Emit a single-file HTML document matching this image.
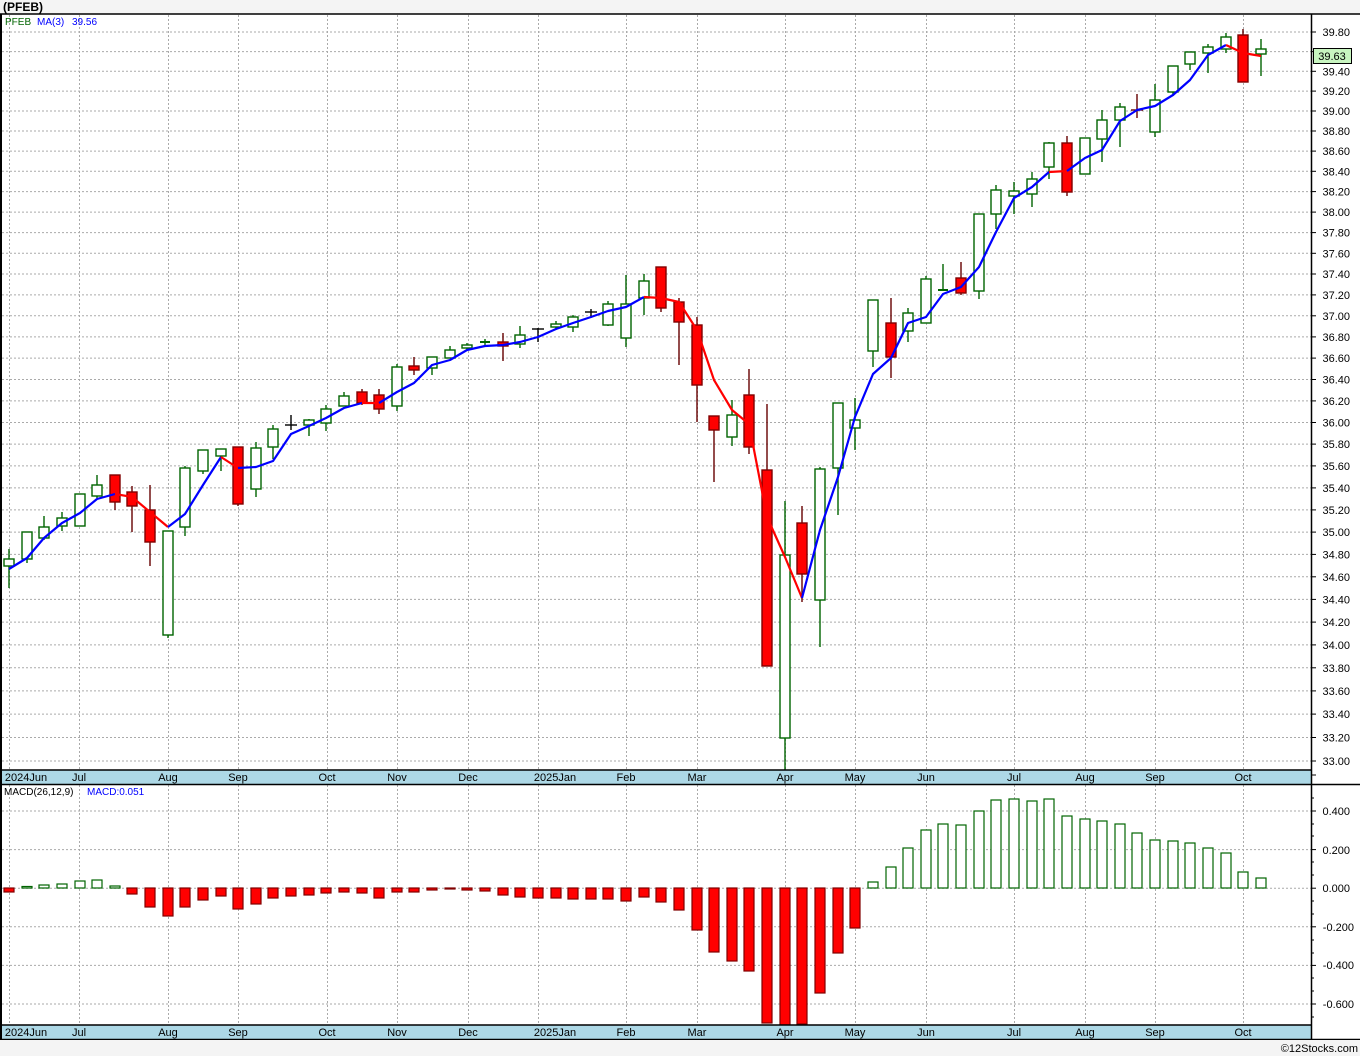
<!DOCTYPE html>
<html><head><meta charset="utf-8"><style>
html,body{margin:0;padding:0;background:#f4f4f4;}
svg{display:block;font-family:"Liberation Sans",sans-serif;}
</style></head><body>
<svg width="1360" height="1056" viewBox="0 0 1360 1056" xmlns="http://www.w3.org/2000/svg">
<rect x="0" y="0" width="1360" height="1056" fill="#f4f4f4"/>
<text x="3" y="11" font-size="12" font-weight="bold" fill="#000">(PFEB)</text>
<rect x="0" y="14" width="1360" height="1026" fill="#fff"/>
<!-- horizontal grid main -->
<g stroke="#aaa" stroke-width="1" stroke-dasharray="2,2">
<line x1="2" x2="1311" y1="32" y2="32"/><line x1="2" x2="1311" y1="51.6" y2="51.6"/><line x1="2" x2="1311" y1="71.3" y2="71.3"/><line x1="2" x2="1311" y1="91.1" y2="91.1"/><line x1="2" x2="1311" y1="111" y2="111"/><line x1="2" x2="1311" y1="131" y2="131"/><line x1="2" x2="1311" y1="151.1" y2="151.1"/><line x1="2" x2="1311" y1="171.3" y2="171.3"/><line x1="2" x2="1311" y1="191.6" y2="191.6"/><line x1="2" x2="1311" y1="212.1" y2="212.1"/><line x1="2" x2="1311" y1="232.6" y2="232.6"/><line x1="2" x2="1311" y1="253.3" y2="253.3"/><line x1="2" x2="1311" y1="274" y2="274"/><line x1="2" x2="1311" y1="294.9" y2="294.9"/><line x1="2" x2="1311" y1="315.8" y2="315.8"/><line x1="2" x2="1311" y1="336.9" y2="336.9"/><line x1="2" x2="1311" y1="358.1" y2="358.1"/><line x1="2" x2="1311" y1="379.5" y2="379.5"/><line x1="2" x2="1311" y1="400.9" y2="400.9"/><line x1="2" x2="1311" y1="422.5" y2="422.5"/><line x1="2" x2="1311" y1="444.1" y2="444.1"/><line x1="2" x2="1311" y1="465.9" y2="465.9"/><line x1="2" x2="1311" y1="487.9" y2="487.9"/><line x1="2" x2="1311" y1="509.9" y2="509.9"/><line x1="2" x2="1311" y1="532.1" y2="532.1"/><line x1="2" x2="1311" y1="554.4" y2="554.4"/><line x1="2" x2="1311" y1="576.8" y2="576.8"/><line x1="2" x2="1311" y1="599.4" y2="599.4"/><line x1="2" x2="1311" y1="622.1" y2="622.1"/><line x1="2" x2="1311" y1="644.9" y2="644.9"/><line x1="2" x2="1311" y1="667.8" y2="667.8"/><line x1="2" x2="1311" y1="690.9" y2="690.9"/><line x1="2" x2="1311" y1="714.1" y2="714.1"/><line x1="2" x2="1311" y1="737.5" y2="737.5"/><line x1="2" x2="1311" y1="761" y2="761"/>
<line x1="2" x2="1311" y1="811" y2="811"/><line x1="2" x2="1311" y1="849.6" y2="849.6"/><line x1="2" x2="1311" y1="888.2" y2="888.2"/><line x1="2" x2="1311" y1="926.8" y2="926.8"/><line x1="2" x2="1311" y1="965.4" y2="965.4"/><line x1="2" x2="1311" y1="1004" y2="1004"/>
</g>
<g stroke="#aaa" stroke-width="1" stroke-dasharray="2,2">
<line x1="9.5" x2="9.5" y1="15" y2="770"/><line x1="79.5" x2="79.5" y1="15" y2="770"/><line x1="168.5" x2="168.5" y1="15" y2="770"/><line x1="238.5" x2="238.5" y1="15" y2="770"/><line x1="327.5" x2="327.5" y1="15" y2="770"/><line x1="397.5" x2="397.5" y1="15" y2="770"/><line x1="468.5" x2="468.5" y1="15" y2="770"/><line x1="538.5" x2="538.5" y1="15" y2="770"/><line x1="626.5" x2="626.5" y1="15" y2="770"/><line x1="697.5" x2="697.5" y1="15" y2="770"/><line x1="785.5" x2="785.5" y1="15" y2="770"/><line x1="855.5" x2="855.5" y1="15" y2="770"/><line x1="926.5" x2="926.5" y1="15" y2="770"/><line x1="1014.5" x2="1014.5" y1="15" y2="770"/><line x1="1085.5" x2="1085.5" y1="15" y2="770"/><line x1="1155.5" x2="1155.5" y1="15" y2="770"/><line x1="1243.5" x2="1243.5" y1="15" y2="770"/>
<line x1="9.5" x2="9.5" y1="785" y2="1025"/><line x1="79.5" x2="79.5" y1="785" y2="1025"/><line x1="168.5" x2="168.5" y1="785" y2="1025"/><line x1="238.5" x2="238.5" y1="785" y2="1025"/><line x1="327.5" x2="327.5" y1="785" y2="1025"/><line x1="397.5" x2="397.5" y1="785" y2="1025"/><line x1="468.5" x2="468.5" y1="785" y2="1025"/><line x1="538.5" x2="538.5" y1="785" y2="1025"/><line x1="626.5" x2="626.5" y1="785" y2="1025"/><line x1="697.5" x2="697.5" y1="785" y2="1025"/><line x1="785.5" x2="785.5" y1="785" y2="1025"/><line x1="855.5" x2="855.5" y1="785" y2="1025"/><line x1="926.5" x2="926.5" y1="785" y2="1025"/><line x1="1014.5" x2="1014.5" y1="785" y2="1025"/><line x1="1085.5" x2="1085.5" y1="785" y2="1025"/><line x1="1155.5" x2="1155.5" y1="785" y2="1025"/><line x1="1243.5" x2="1243.5" y1="785" y2="1025"/>
</g>
<!-- MACD bars -->
<g stroke-width="1.2">
<g fill="#ff0000" stroke="#800000">
<rect x="4" y="888" width="10" height="4"/><rect x="127" y="888" width="10" height="6"/><rect x="145" y="888" width="10" height="19"/><rect x="163" y="888" width="10" height="28"/><rect x="180" y="888" width="10" height="19"/><rect x="198" y="888" width="10" height="12"/><rect x="216" y="888" width="10" height="8"/><rect x="233" y="888" width="10" height="21"/><rect x="251" y="888" width="10" height="16"/><rect x="268" y="888" width="10" height="10"/><rect x="286" y="888" width="10" height="8"/><rect x="304" y="888" width="10" height="7"/><rect x="321" y="888" width="10" height="5"/><rect x="339" y="888" width="10" height="4"/><rect x="357" y="888" width="10" height="5"/><rect x="374" y="888" width="10" height="10"/><rect x="392" y="888" width="10" height="4"/><rect x="409" y="888" width="10" height="4"/><rect x="427" y="888" width="10" height="2"/><rect x="445" y="888" width="10" height="1"/><rect x="462" y="888" width="10" height="2"/><rect x="480" y="888" width="10" height="3"/><rect x="498" y="888" width="10" height="7"/><rect x="515" y="888" width="10" height="9"/><rect x="533" y="888" width="10" height="10"/><rect x="551" y="888" width="10" height="10"/><rect x="568" y="888" width="10" height="11"/><rect x="586" y="888" width="10" height="11"/><rect x="603" y="888" width="10" height="11"/><rect x="621" y="888" width="10" height="13"/><rect x="639" y="888" width="10" height="9"/><rect x="656" y="888" width="10" height="14"/><rect x="674" y="888" width="10" height="22"/><rect x="692" y="888" width="10" height="42"/><rect x="709" y="888" width="10" height="64"/><rect x="727" y="888" width="10" height="73"/><rect x="744" y="888" width="10" height="83"/><rect x="762" y="888" width="10" height="135"/><rect x="780" y="888" width="10" height="137"/><rect x="797" y="888" width="10" height="136"/><rect x="815" y="888" width="10" height="105"/><rect x="833" y="888" width="10" height="65"/><rect x="850" y="888" width="10" height="40"/>
</g>
<g fill="#fff" stroke="#006400">
<rect x="22" y="886.5" width="10" height="1.5"/><rect x="39" y="885" width="10" height="3"/><rect x="57" y="884" width="10" height="4"/><rect x="75" y="881" width="10" height="7"/><rect x="92" y="880" width="10" height="8"/><rect x="110" y="886" width="10" height="2"/>
<rect x="868" y="882" width="10" height="6"/><rect x="886" y="867" width="10" height="21"/><rect x="903" y="848" width="10" height="40"/><rect x="921" y="830" width="10" height="58"/><rect x="938" y="824" width="10" height="64"/><rect x="956" y="825" width="10" height="63"/><rect x="974" y="811" width="10" height="77"/><rect x="991" y="800" width="10" height="88"/><rect x="1009" y="799" width="10" height="89"/><rect x="1027" y="801" width="10" height="87"/><rect x="1044" y="799" width="10" height="89"/><rect x="1062" y="816" width="10" height="72"/><rect x="1080" y="819" width="10" height="69"/><rect x="1097" y="821" width="10" height="67"/><rect x="1115" y="824" width="10" height="64"/><rect x="1132" y="833" width="10" height="55"/><rect x="1150" y="840" width="10" height="48"/><rect x="1168" y="841" width="10" height="47"/><rect x="1185" y="843" width="10" height="45"/><rect x="1203" y="848" width="10" height="40"/><rect x="1221" y="853" width="10" height="35"/><rect x="1238" y="872" width="10" height="16"/><rect x="1256" y="878" width="10" height="10"/>
</g></g>
<!-- candles -->
<g stroke-width="1.4">
<g stroke="#006400">
<line x1="9" x2="9" y1="549" y2="588"/><line x1="27" x2="27" y1="532" y2="563"/><line x1="44" x2="44" y1="516" y2="540"/><line x1="62" x2="62" y1="512" y2="531"/><line x1="80" x2="80" y1="494" y2="526"/><line x1="97" x2="97" y1="475" y2="498"/><line x1="168" x2="168" y1="531" y2="638"/><line x1="185" x2="185" y1="466" y2="536"/><line x1="203" x2="203" y1="450" y2="474"/><line x1="221" x2="221" y1="449" y2="471"/><line x1="256" x2="256" y1="442" y2="497"/><line x1="273" x2="273" y1="425" y2="459"/><line x1="309" x2="309" y1="419" y2="436"/><line x1="326" x2="326" y1="405" y2="431"/><line x1="344" x2="344" y1="392" y2="406"/><line x1="397" x2="397" y1="364" y2="411"/><line x1="432" x2="432" y1="357" y2="375"/><line x1="450" x2="450" y1="346" y2="358"/><line x1="467" x2="467" y1="343" y2="350"/><line x1="485" x2="485" y1="339" y2="347"/><line x1="480" x2="490" y1="342" y2="342" stroke-width="2"/><line x1="520" x2="520" y1="326" y2="348"/><line x1="556" x2="556" y1="321" y2="330"/><line x1="573" x2="573" y1="315" y2="332"/><line x1="608" x2="608" y1="301" y2="326"/><line x1="626" x2="626" y1="275" y2="347"/><line x1="644" x2="644" y1="274" y2="315"/><line x1="732" x2="732" y1="400" y2="446"/><line x1="785" x2="785" y1="501" y2="770"/><line x1="820" x2="820" y1="467" y2="647"/><line x1="838" x2="838" y1="403" y2="515"/><line x1="855" x2="855" y1="398" y2="450"/><line x1="873" x2="873" y1="300" y2="367"/><line x1="908" x2="908" y1="308" y2="342"/><line x1="926" x2="926" y1="276" y2="323"/><line x1="943" x2="943" y1="264" y2="290"/><line x1="938" x2="948" y1="290" y2="290" stroke-width="2"/><line x1="979" x2="979" y1="214" y2="299"/><line x1="996" x2="996" y1="185" y2="229"/><line x1="1014" x2="1014" y1="182" y2="214"/><line x1="1032" x2="1032" y1="172" y2="207"/><line x1="1049" x2="1049" y1="142" y2="179"/><line x1="1085" x2="1085" y1="138" y2="174"/><line x1="1102" x2="1102" y1="110" y2="162"/><line x1="1120" x2="1120" y1="103" y2="147"/><line x1="1155" x2="1155" y1="84" y2="137"/><line x1="1173" x2="1173" y1="66" y2="96"/><line x1="1190" x2="1190" y1="52" y2="70"/><line x1="1208" x2="1208" y1="44" y2="73"/><line x1="1226" x2="1226" y1="33" y2="53"/><line x1="1261" x2="1261" y1="39" y2="76"/>
</g>
<g stroke="#000"><line x1="291" x2="291" y1="415" y2="430"/><line x1="285" x2="297" y1="425" y2="425"/><line x1="538" x2="538" y1="328" y2="342"/><line x1="532" x2="544" y1="329" y2="329"/><line x1="591" x2="591" y1="309" y2="318"/><line x1="585" x2="597" y1="312" y2="312"/></g>
<g stroke="#660000"><line x1="115" x2="115" y1="475" y2="510"/><line x1="132" x2="132" y1="486" y2="532"/><line x1="150" x2="150" y1="485" y2="566"/><line x1="238" x2="238" y1="447" y2="506"/><line x1="362" x2="362" y1="389" y2="405"/><line x1="379" x2="379" y1="389" y2="414"/><line x1="414" x2="414" y1="357" y2="375"/><line x1="503" x2="503" y1="333" y2="361"/><line x1="661" x2="661" y1="267" y2="312"/><line x1="679" x2="679" y1="298" y2="365"/><line x1="697" x2="697" y1="317" y2="422"/><line x1="714" x2="714" y1="416" y2="482"/><line x1="749" x2="749" y1="369" y2="454"/><line x1="767" x2="767" y1="404" y2="666"/><line x1="802" x2="802" y1="506" y2="602"/><line x1="891" x2="891" y1="298" y2="378"/><line x1="961" x2="961" y1="262" y2="295"/><line x1="1067" x2="1067" y1="136" y2="196"/><line x1="1137" x2="1137" y1="94" y2="118"/><line x1="1131" x2="1143" y1="110" y2="110"/><line x1="1243" x2="1243" y1="29" y2="82"/></g>
<g fill="#fff" stroke="#006400">
<rect x="4" y="559" width="10" height="7"/><rect x="22" y="532" width="10" height="27"/><rect x="39" y="527" width="10" height="11"/><rect x="57" y="518" width="10" height="8"/><rect x="75" y="494" width="10" height="32"/><rect x="92" y="485" width="10" height="11"/><rect x="163" y="531" width="10" height="104"/><rect x="180" y="468" width="10" height="59"/><rect x="198" y="450" width="10" height="21"/><rect x="216" y="449" width="10" height="7"/><rect x="251" y="448" width="10" height="41"/><rect x="268" y="429" width="10" height="18"/><rect x="304" y="420" width="10" height="5"/><rect x="321" y="409" width="10" height="14"/><rect x="339" y="396" width="10" height="10"/><rect x="392" y="367" width="10" height="39"/><rect x="427" y="357" width="10" height="11"/><rect x="445" y="350" width="10" height="8"/><rect x="462" y="345" width="10" height="3"/><rect x="515" y="335" width="10" height="9"/><rect x="551" y="324" width="10" height="3"/><rect x="568" y="317" width="10" height="10"/><rect x="603" y="304" width="10" height="21"/><rect x="621" y="304" width="10" height="34"/><rect x="639" y="281" width="10" height="17"/><rect x="727" y="415" width="10" height="22"/><rect x="780" y="555" width="10" height="183"/><rect x="815" y="469" width="10" height="131"/><rect x="833" y="403" width="10" height="65"/><rect x="850" y="420" width="10" height="8"/><rect x="868" y="300" width="10" height="51"/><rect x="903" y="313" width="10" height="18"/><rect x="921" y="279" width="10" height="44"/><rect x="974" y="214" width="10" height="77"/><rect x="991" y="190" width="10" height="24"/><rect x="1009" y="191" width="10" height="5"/><rect x="1027" y="179" width="10" height="15"/><rect x="1044" y="143" width="10" height="24"/><rect x="1080" y="138" width="10" height="36"/><rect x="1097" y="120" width="10" height="19"/><rect x="1115" y="107" width="10" height="13"/><rect x="1150" y="100" width="10" height="32"/><rect x="1168" y="66" width="10" height="26"/><rect x="1185" y="52" width="10" height="12"/><rect x="1203" y="47" width="10" height="6"/><rect x="1221" y="37" width="10" height="12"/><rect x="1256" y="49" width="10" height="5"/>
</g>
<g fill="#ff0000" stroke="#800000">
<rect x="110" y="475" width="10" height="27"/><rect x="127" y="492" width="10" height="14"/><rect x="145" y="510" width="10" height="32"/><rect x="233" y="447" width="10" height="57"/><rect x="357" y="392" width="10" height="11"/><rect x="374" y="395" width="10" height="14"/><rect x="409" y="366" width="10" height="4"/><rect x="498" y="342" width="10" height="4"/><rect x="656" y="267" width="10" height="41"/><rect x="674" y="302" width="10" height="20"/><rect x="692" y="325" width="10" height="60"/><rect x="709" y="416" width="10" height="14"/><rect x="744" y="395" width="10" height="52"/><rect x="762" y="470" width="10" height="196"/><rect x="797" y="523" width="10" height="51"/><rect x="886" y="323" width="10" height="34"/><rect x="956" y="278" width="10" height="15"/><rect x="1062" y="143" width="10" height="49"/><rect x="1238" y="35" width="10" height="47"/>
</g></g>
<!-- MA -->
<g fill="none" stroke-width="2.2" stroke-linejoin="round">
<polyline stroke="#0000ff" points="9,569 27,558 44,538 62,523 80,513 97,499 115,494"/>
<polyline stroke="#ff0000" points="115,494 132,497 150,512 168,527"/>
<polyline stroke="#0000ff" points="168,527 185,514 203,485 221,457"/>
<polyline stroke="#ff0000" points="221,457 238,468"/>
<polyline stroke="#0000ff" points="238,468 256,467 273,461 291,434 309,426 326,418 344,408 362,403"/>
<polyline stroke="#ff0000" points="362,403 379,403"/>
<polyline stroke="#0000ff" points="379,403 397,392 414,383 432,365 450,360 467,350 485,346 503,345 520,342 538,337 556,329 573,323 591,317 608,311 626,307 644,297"/>
<polyline stroke="#ff0000" points="644,297 661,298 679,302 697,330 714,380 732,410 749,424 767,517 785,557 802,598"/>
<polyline stroke="#0000ff" points="802,598 820,530 838,477 855,417 873,374 891,358 908,323 926,317 943,294 961,287 979,267 996,232 1014,198 1032,187 1049,172"/>
<polyline stroke="#ff0000" points="1049,172 1067,171"/>
<polyline stroke="#0000ff" points="1067,171 1085,158 1102,150 1120,121 1137,110 1155,106 1173,95 1190,80 1208,55 1226,45"/>
<polyline stroke="#ff0000" points="1226,45 1243,53 1261,56"/>
</g>
<!-- legends -->
<text x="5" y="25" font-size="10" fill="#006400">PFEB</text>
<text x="37" y="25" font-size="10" fill="#0000ff">MA(3)</text>
<text x="72" y="25" font-size="10" fill="#0000ff">39.56</text>
<text x="4" y="795" font-size="10" fill="#000">MACD(26,12,9)</text>
<text x="87" y="795" font-size="10" fill="#0000ff">MACD:0.051</text>
<!-- date bands -->
<rect x="0" y="770" width="1311" height="14" fill="#add8e6"/>
<rect x="0" y="1025" width="1311" height="14" fill="#add8e6"/>
<g stroke="#000" stroke-width="1.5">
<line x1="0" x2="1311" y1="770" y2="770"/><line x1="0" x2="1360" y1="784.5" y2="784.5"/>
<line x1="0" x2="1311" y1="1025" y2="1025"/><line x1="0" x2="1360" y1="1039.5" y2="1039.5"/>
<line x1="0" x2="1360" y1="14" y2="14"/>
<line x1="1311.5" x2="1311.5" y1="14" y2="1040"/>
</g>
<line x1="1" x2="1" y1="14" y2="1040" stroke="#000" stroke-width="2"/>
<g font-size="11" fill="#000" text-anchor="middle">
<text x="26" y="781">2024Jun</text><text x="79" y="781">Jul</text><text x="168" y="781">Aug</text><text x="238" y="781">Sep</text><text x="327" y="781">Oct</text><text x="397" y="781">Nov</text><text x="468" y="781">Dec</text><text x="555" y="781">2025Jan</text><text x="626" y="781">Feb</text><text x="697" y="781">Mar</text><text x="785" y="781">Apr</text><text x="855" y="781">May</text><text x="926" y="781">Jun</text><text x="1014" y="781">Jul</text><text x="1085" y="781">Aug</text><text x="1155" y="781">Sep</text><text x="1243" y="781">Oct</text>
<text x="26" y="1036">2024Jun</text><text x="79" y="1036">Jul</text><text x="168" y="1036">Aug</text><text x="238" y="1036">Sep</text><text x="327" y="1036">Oct</text><text x="397" y="1036">Nov</text><text x="468" y="1036">Dec</text><text x="555" y="1036">2025Jan</text><text x="626" y="1036">Feb</text><text x="697" y="1036">Mar</text><text x="785" y="1036">Apr</text><text x="855" y="1036">May</text><text x="926" y="1036">Jun</text><text x="1014" y="1036">Jul</text><text x="1085" y="1036">Aug</text><text x="1155" y="1036">Sep</text><text x="1243" y="1036">Oct</text>
</g>
<!-- right axis -->
<g stroke="#000" stroke-width="1">
<line x1="1311" x2="1316" y1="32" y2="32"/><line x1="1311" x2="1316" y1="51.6" y2="51.6"/><line x1="1311" x2="1316" y1="71.3" y2="71.3"/><line x1="1311" x2="1316" y1="91.1" y2="91.1"/><line x1="1311" x2="1316" y1="111" y2="111"/><line x1="1311" x2="1316" y1="131" y2="131"/><line x1="1311" x2="1316" y1="151.1" y2="151.1"/><line x1="1311" x2="1316" y1="171.3" y2="171.3"/><line x1="1311" x2="1316" y1="191.6" y2="191.6"/><line x1="1311" x2="1316" y1="212.1" y2="212.1"/><line x1="1311" x2="1316" y1="232.6" y2="232.6"/><line x1="1311" x2="1316" y1="253.3" y2="253.3"/><line x1="1311" x2="1316" y1="274" y2="274"/><line x1="1311" x2="1316" y1="294.9" y2="294.9"/><line x1="1311" x2="1316" y1="315.8" y2="315.8"/><line x1="1311" x2="1316" y1="336.9" y2="336.9"/><line x1="1311" x2="1316" y1="358.1" y2="358.1"/><line x1="1311" x2="1316" y1="379.5" y2="379.5"/><line x1="1311" x2="1316" y1="400.9" y2="400.9"/><line x1="1311" x2="1316" y1="422.5" y2="422.5"/><line x1="1311" x2="1316" y1="444.1" y2="444.1"/><line x1="1311" x2="1316" y1="465.9" y2="465.9"/><line x1="1311" x2="1316" y1="487.9" y2="487.9"/><line x1="1311" x2="1316" y1="509.9" y2="509.9"/><line x1="1311" x2="1316" y1="532.1" y2="532.1"/><line x1="1311" x2="1316" y1="554.4" y2="554.4"/><line x1="1311" x2="1316" y1="576.8" y2="576.8"/><line x1="1311" x2="1316" y1="599.4" y2="599.4"/><line x1="1311" x2="1316" y1="622.1" y2="622.1"/><line x1="1311" x2="1316" y1="644.9" y2="644.9"/><line x1="1311" x2="1316" y1="667.8" y2="667.8"/><line x1="1311" x2="1316" y1="690.9" y2="690.9"/><line x1="1311" x2="1316" y1="714.1" y2="714.1"/><line x1="1311" x2="1316" y1="737.5" y2="737.5"/><line x1="1311" x2="1316" y1="761" y2="761"/><line x1="1311" x2="1316" y1="775" y2="775"/>
<line x1="1311" x2="1316" y1="811" y2="811"/><line x1="1311" x2="1316" y1="849.6" y2="849.6"/><line x1="1311" x2="1316" y1="888.2" y2="888.2"/><line x1="1311" x2="1316" y1="926.8" y2="926.8"/><line x1="1311" x2="1316" y1="965.4" y2="965.4"/><line x1="1311" x2="1316" y1="1004" y2="1004"/>
<line x1="1311" x2="1314" y1="798" y2="798"/><line x1="1311" x2="1314" y1="824" y2="824"/><line x1="1311" x2="1314" y1="836" y2="836"/><line x1="1311" x2="1314" y1="862" y2="862"/><line x1="1311" x2="1314" y1="875" y2="875"/><line x1="1311" x2="1314" y1="901" y2="901"/><line x1="1311" x2="1314" y1="914" y2="914"/><line x1="1311" x2="1314" y1="940" y2="940"/><line x1="1311" x2="1314" y1="953" y2="953"/><line x1="1311" x2="1314" y1="978" y2="978"/><line x1="1311" x2="1314" y1="991" y2="991"/><line x1="1311" x2="1314" y1="1017" y2="1017"/>
</g>
<g font-size="11" fill="#000" text-anchor="end">
<text x="1350" y="36">39.80</text><text x="1350" y="75.3">39.40</text><text x="1350" y="95.1">39.20</text><text x="1350" y="115">39.00</text><text x="1350" y="135">38.80</text><text x="1350" y="155.1">38.60</text><text x="1350" y="175.3">38.40</text><text x="1350" y="195.6">38.20</text><text x="1350" y="216.1">38.00</text><text x="1350" y="236.6">37.80</text><text x="1350" y="257.3">37.60</text><text x="1350" y="278">37.40</text><text x="1350" y="298.9">37.20</text><text x="1350" y="319.8">37.00</text><text x="1350" y="340.9">36.80</text><text x="1350" y="362.1">36.60</text><text x="1350" y="383.5">36.40</text><text x="1350" y="404.9">36.20</text><text x="1350" y="426.5">36.00</text><text x="1350" y="448.1">35.80</text><text x="1350" y="469.9">35.60</text><text x="1350" y="491.9">35.40</text><text x="1350" y="513.9">35.20</text><text x="1350" y="536.1">35.00</text><text x="1350" y="558.4">34.80</text><text x="1350" y="580.8">34.60</text><text x="1350" y="603.4">34.40</text><text x="1350" y="626.1">34.20</text><text x="1350" y="648.9">34.00</text><text x="1350" y="671.8">33.80</text><text x="1350" y="694.9">33.60</text><text x="1350" y="718.1">33.40</text><text x="1350" y="741.5">33.20</text><text x="1350" y="765">33.00</text>
<text x="1350" y="815">0.400</text><text x="1350" y="854">0.200</text><text x="1350" y="892">0.000</text><text x="1354" y="931">-0.200</text><text x="1354" y="969">-0.400</text><text x="1354" y="1008">-0.600</text>
</g>
<rect x="1313.5" y="48.5" width="38" height="15" fill="#c8f5c0" stroke="#000" stroke-width="1"/>
<text x="1332" y="60" font-size="11" fill="#000" text-anchor="middle">39.63</text>
<rect x="0" y="1040" width="1360" height="16" fill="#f4f4f4"/>
<text x="1358" y="1052" font-size="11" fill="#000" text-anchor="end">©12Stocks.com</text>
</svg>
</body></html>
